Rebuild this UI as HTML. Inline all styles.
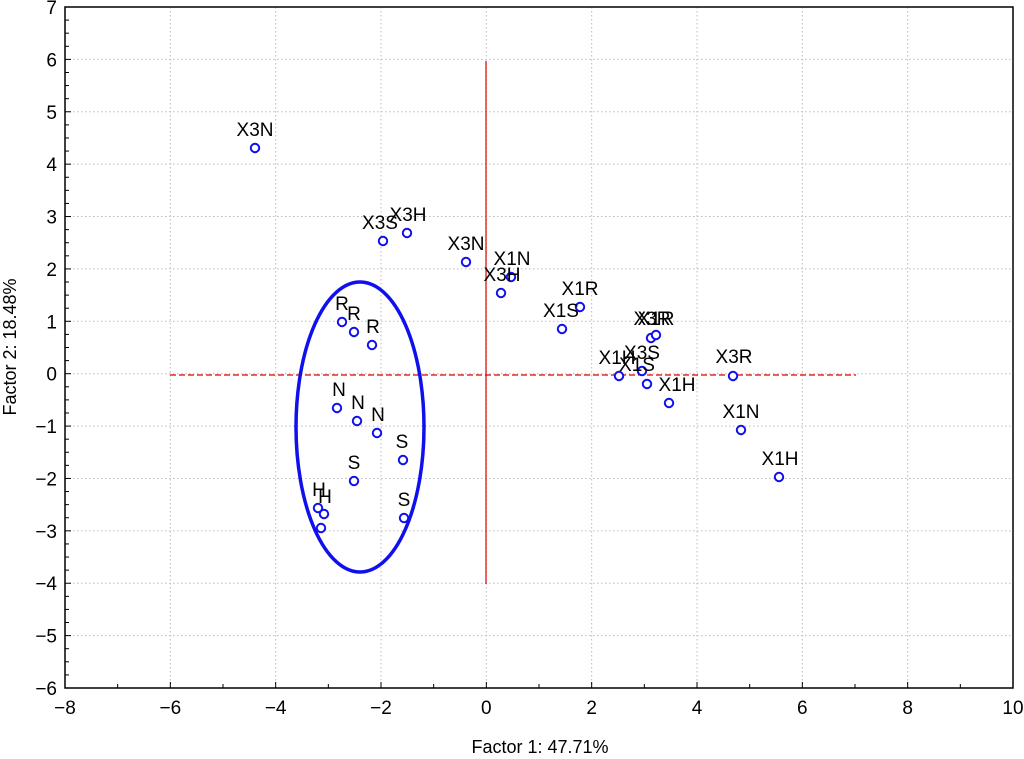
<!DOCTYPE html>
<html><head><meta charset="utf-8"><style>
html,body{margin:0;padding:0;background:#fff;}
svg{display:block;font-family:"Liberation Sans",sans-serif;}
</style></head><body>
<svg id="s" width="1024" height="759" xmlns="http://www.w3.org/2000/svg"></svg>
<script>
const s=document.getElementById('s');
const X0=65,X1=1013,Y0=7,Y1=688;
const xs=(X1-X0)/18, ys=(Y1-Y0)/13;
const px=v=>X0+(v+8)*xs, py=v=>Y0+(7-v)*ys;
let h='';
for(let v=-6;v<=8;v+=2){const x=px(v);h+=`<line x1="${x}" y1="${Y0}" x2="${x}" y2="${Y1}" stroke="#bbb" stroke-dasharray="1.5,2.5"/>`;}
for(let v=-5;v<=6;v++){const y=py(v);h+=`<line x1="${X0}" y1="${y}" x2="${X1}" y2="${y}" stroke="#bbb" stroke-dasharray="1.5,2.5"/>`;}
for(let v=-8;v<=10;v++){const x=px(v);const L=v%2==0?6:4;h+=`<line x1="${x}" y1="${Y1}" x2="${x}" y2="${Y1-L}" stroke="#000"/>`;
 if(v%2==0)h+=`<text x="${x}" y="${Y1+26}" font-size="19" text-anchor="middle">${v<0?'\u2212'+(-v):v}</text>`;}
for(let i=0;i<=52;i++){const v=-6+i*0.25;const y=py(v);const maj=i%4==0;h+=`<line x1="${X0}" y1="${y}" x2="${X0+(maj?6:4)}" y2="${y}" stroke="#000"/>`;
 if(maj)h+=`<text x="${X0-8}" y="${y+7}" font-size="19" text-anchor="end">${v<0?'\u2212'+(-v):v}</text>`;}
h+=`<rect x="${X0}" y="${Y0}" width="${X1-X0}" height="${Y1-Y0}" fill="none" stroke="#000" stroke-width="1.5"/>`;
h+=`<line x1="170" y1="375" x2="856" y2="375" stroke="#e00000" stroke-width="1.2" stroke-dasharray="6,3"/>`;
h+=`<line x1="486" y1="61" x2="486" y2="584" stroke="#e00000" stroke-width="1.2"/>`;
h+=`<ellipse cx="360" cy="427" rx="64" ry="145" fill="none" stroke="#1010ee" stroke-width="3.5"/>`;
const P=[[255,148,'X3N',255,136],[383,241,'X3S',380,229],[407,233,'X3H',408,221],[466,262,'X3N',466,250],[511,277,'X1N',512,265],[501,293,'X3H',502,281],[580,307,'X1R',580,295],[562,329,'X1S',561,317],[651,338,'X3R',652,325],[656,335,'X1R',656,325],
[619,376,'X1H',617,364],[642,371,'X3S',642,359],[647,384,'X1S',637,371],[669,403,'X1H',677,391],[733,376,'X3R',734,363],[741,430,'X1N',741,418],[779,477,'X1H',780,465],
[342,322,'R',342,310],[354,332,'R',354,320],[372,345,'R',373,333],[337,408,'N',339,396],[357,421,'N',358,409],[377,433,'N',378,421],[403,460,'S',402,448],[354,481,'S',354,469],[404,518,'S',404,506],[318,508,'H',319,496],[324,514,'H',325,503],[321,528,'H',0,0]];
for(const p of P){h+=`<circle cx="${p[0]}" cy="${p[1]}" r="4.2" fill="#fff" stroke="#1010ee" stroke-width="2"/>`;
 if(p[3])h+=`<text x="${p[3]}" y="${p[4]}" font-size="19" text-anchor="middle">${p[2]}</text>`;}
h+=`<text x="540" y="753" font-size="18" text-anchor="middle">Factor 1: 47.71%</text>`;
h+=`<text transform="translate(16,347) rotate(-90)" font-size="18" text-anchor="middle">Factor 2: 18.48%</text>`;
s.innerHTML=h;
</script>
</body></html>
